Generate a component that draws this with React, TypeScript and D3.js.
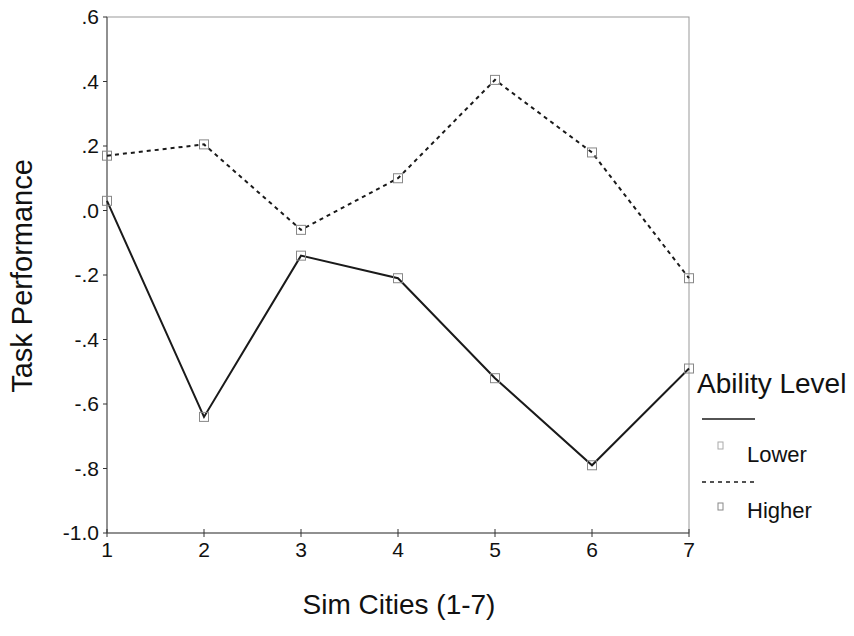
import { useEffect, useRef } from "react"
import * as d3 from "d3"

const cities = [1, 2, 3, 4, 5, 6, 7]
const lowerAbility = [0.03, -0.64, -0.14, -0.21, -0.52, -0.79, -0.49]
const higherAbility = [0.17, 0.205, -0.06, 0.1, 0.405, 0.18, -0.21]
const yTicks = [0.6, 0.4, 0.2, 0.0, -0.2, -0.4, -0.6, -0.8, -1.0]
const yTickLabels = [".6", ".4", ".2", ".0", "-.2", "-.4", "-.6", "-.8", "-1.0"]

const FONT = "Arial, 'Liberation Sans', sans-serif"

export default function App() {
  const ref = useRef<SVGSVGElement>(null)

  useEffect(() => {
    if (!ref.current) return
    const svg = d3.select(ref.current)
    svg.selectAll("*").remove()

    const left = 107
    const right = 689
    const top = 17
    const bottom = 533

    const x = d3.scaleLinear().domain([1, 7]).range([left, right])
    const y = d3.scaleLinear().domain([-1, 0.6]).range([bottom, top])

    // frame
    svg.append("rect")
      .attr("x", left).attr("y", top)
      .attr("width", right - left).attr("height", bottom - top)
      .attr("fill", "none").attr("stroke", "#999").attr("stroke-width", 1)

    // y axis
    const yAxis = svg.append("g").attr("transform", `translate(${left},0)`)
    yAxis.append("line").attr("y1", top).attr("y2", bottom).attr("stroke", "#555")
    yTicks.forEach((t, i) => {
      yAxis.append("line")
        .attr("x1", -4).attr("x2", 0)
        .attr("y1", y(t)).attr("y2", y(t))
        .attr("stroke", "#333")
      yAxis.append("text")
        .attr("x", -8).attr("y", y(t)).attr("dy", "0.35em")
        .attr("text-anchor", "end")
        .attr("font-family", FONT).attr("font-size", 21)
        .attr("fill", "#111")
        .text(yTickLabels[i])
    })

    // x axis
    const xAxis = svg.append("g").attr("transform", `translate(0,${bottom})`)
    xAxis.append("line").attr("x1", left).attr("x2", right).attr("stroke", "#555")
    cities.forEach((c) => {
      xAxis.append("line")
        .attr("x1", x(c)).attr("x2", x(c))
        .attr("y1", -4).attr("y2", 4)
        .attr("stroke", "#333")
      xAxis.append("text")
        .attr("x", x(c)).attr("y", 24)
        .attr("text-anchor", "middle")
        .attr("font-family", FONT).attr("font-size", 21)
        .attr("fill", "#111")
        .text(String(c))
    })

    const line = d3.line<number>()
      .x((_, i) => x(cities[i]))
      .y((d) => y(d))

    const drawSeries = (vals: number[], dash: string | null) => {
      svg.append("path")
        .datum(vals)
        .attr("d", line)
        .attr("fill", "none")
        .attr("stroke", "#1a1a1a")
        .attr("stroke-width", 2)
        .attr("stroke-dasharray", dash)
      svg.append("g").selectAll("rect")
        .data(vals)
        .join("rect")
        .attr("x", (_, i) => x(cities[i]) - 4.5)
        .attr("y", (d) => y(d) - 4.5)
        .attr("width", 9).attr("height", 9)
        .attr("fill", "none")
        .attr("stroke", "#888")
        .attr("stroke-width", 1)
    }
    drawSeries(lowerAbility, null)
    drawSeries(higherAbility, "4,4")

    // axis titles
    svg.append("text")
      .attr("transform", "translate(32,276) rotate(-90)")
      .attr("text-anchor", "middle")
      .attr("font-family", FONT).attr("font-size", 29)
      .attr("fill", "#111")
      .text("Task Performance")

    svg.append("text")
      .attr("x", 399).attr("y", 614)
      .attr("text-anchor", "middle")
      .attr("font-family", FONT).attr("font-size", 28)
      .attr("fill", "#111")
      .text("Sim Cities (1-7)")

    // legend
    const lg = svg.append("g")
    lg.append("text")
      .attr("x", 697).attr("y", 393)
      .attr("font-family", FONT).attr("font-size", 28)
      .attr("fill", "#111")
      .text("Ability Level")
    lg.append("line")
      .attr("x1", 702).attr("x2", 755).attr("y1", 419).attr("y2", 419)
      .attr("stroke", "#1a1a1a").attr("stroke-width", 1.5)
    lg.append("rect")
      .attr("x", 718).attr("y", 442).attr("width", 5).attr("height", 7)
      .attr("fill", "none").attr("stroke", "#aaa")
    lg.append("text")
      .attr("x", 747).attr("y", 462)
      .attr("font-family", FONT).attr("font-size", 22)
      .attr("fill", "#111")
      .text("Lower")
    lg.append("line")
      .attr("x1", 702).attr("x2", 755).attr("y1", 482).attr("y2", 482)
      .attr("stroke", "#1a1a1a").attr("stroke-width", 1.5)
      .attr("stroke-dasharray", "4,4")
    lg.append("rect")
      .attr("x", 718).attr("y", 503).attr("width", 5).attr("height", 7)
      .attr("fill", "none").attr("stroke", "#888")
    lg.append("text")
      .attr("x", 747).attr("y", 518)
      .attr("font-family", FONT).attr("font-size", 22)
      .attr("fill", "#111")
      .text("Higher")
  }, [])

  return (
    <svg
      ref={ref}
      width={854}
      height={636}
      style={{ position: "absolute", left: 0, top: 0, background: "#fff" }}
    />
  )
}
